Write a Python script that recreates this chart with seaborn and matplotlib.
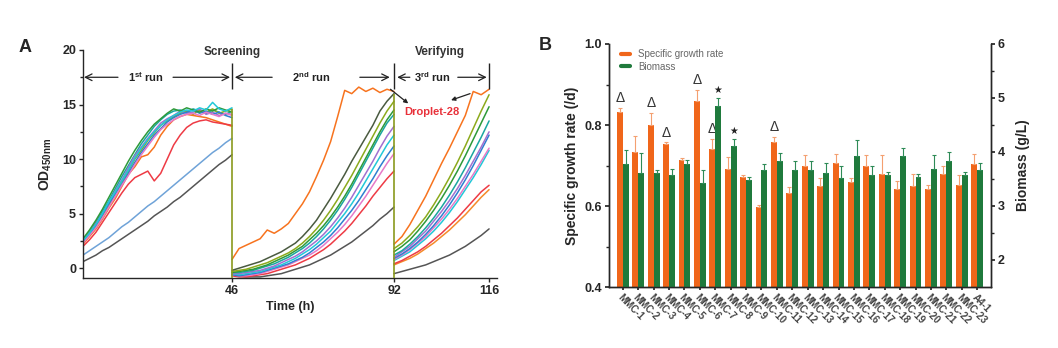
import numpy as np
import pandas as pd
import matplotlib
matplotlib.use("Agg")
import matplotlib.pyplot as plt
import seaborn as sns
from matplotlib.lines import Line2D

# ------------------------------------------------------------------ data
# Panel A: OD450 growth curves, three runs
T1 = list(range(0, 47, 2))     # run 1 time grid (h)
T2 = list(range(46, 93, 2))    # run 2 time grid (h)
T3 = list(range(92, 117, 2))   # run 3 time grid (h)

run1 = {
    "r1_teal":   [2.6,3.3,4.2,5.2,6.2,7.3,8.4,9.4,10.4,11.4,12.2,13.0,13.6,14.1,14.4,14.5,14.3,14.6,14.4,14.2,14.5,14.3,14.1,14.4],
    "r1_olive":  [2.3,3.0,3.8,4.8,5.7,6.9,7.9,8.9,10.0,10.8,11.7,12.4,13.1,13.5,13.9,14.2,14.4,14.1,14.5,14.3,14.6,14.2,14.4,14.6],
    "r1_orange": [2.2,2.9,3.6,4.5,5.5,6.4,7.5,8.6,9.3,10.2,10.4,11.1,12.2,13.0,13.6,13.9,14.1,14.0,13.9,13.8,13.6,13.4,13.2,13.0],
    "r1_purple": [2.5,3.2,4.1,5.0,6.0,7.1,8.1,9.2,10.3,11.1,11.9,12.6,13.3,13.7,14.0,14.4,14.2,14.3,14.6,14.1,14.3,14.0,14.2,14.1],
    "r1_blue":   [2.4,3.1,3.9,4.9,5.9,6.8,7.7,8.7,9.7,10.6,11.4,12.2,12.8,13.4,13.8,14.1,14.3,14.5,14.2,14.4,14.1,14.3,14.0,13.8],
    "r1_green":  [2.7,3.5,4.4,5.4,6.5,7.6,8.7,9.8,10.8,11.7,12.5,13.2,13.7,14.2,14.6,14.4,14.7,14.5,14.3,14.6,14.4,14.7,14.5,14.3],
    "r1_pink":   [2.3,3.0,3.7,4.6,5.6,6.6,7.6,8.5,9.5,10.4,11.2,12.0,12.7,13.2,13.6,13.9,14.1,14.2,14.0,14.3,14.1,13.9,14.2,14.0],
    "r1_cyan":   [2.5,3.2,4.0,5.0,6.1,7.0,8.0,9.0,10.1,11.0,11.8,12.5,13.1,13.6,14.0,14.3,14.5,14.4,14.7,14.5,15.2,14.6,14.4,14.7],
    "r1_red":    [2.0,2.6,3.3,4.2,5.1,6.0,6.9,7.7,8.3,8.6,8.9,8.0,8.7,10.0,11.3,12.2,12.9,13.3,13.5,13.6,13.4,13.3,13.2,13.1],
    "r1_ltblue": [1.2,1.6,2.0,2.4,2.8,3.3,3.8,4.2,4.7,5.2,5.7,6.1,6.6,7.1,7.6,8.1,8.6,9.1,9.6,10.1,10.6,11.0,11.5,11.9],
    "r1_gray":   [0.6,0.9,1.2,1.6,1.9,2.3,2.7,3.1,3.5,3.9,4.3,4.8,5.2,5.6,6.1,6.5,7.0,7.5,8.0,8.5,9.0,9.5,9.9,10.4],
}
run2 = {
    "r2_gray":   [-0.6,-0.7,-0.8,-0.8,-0.8,-0.7,-0.6,-0.5,-0.3,-0.1,0.1,0.3,0.6,0.9,1.2,1.6,2.0,2.4,2.9,3.4,3.9,4.5,5.0,5.6],
    "r2_red":    [-0.7,-0.8,-0.8,-0.7,-0.6,-0.5,-0.3,-0.1,0.1,0.3,0.6,0.9,1.3,1.7,2.2,2.8,3.4,4.1,4.9,5.7,6.6,7.4,8.2,8.9],
    "r2_pink":   [-0.6,-0.7,-0.7,-0.6,-0.5,-0.3,-0.1,0.1,0.3,0.6,0.9,1.2,1.6,2.1,2.7,3.3,4.0,4.8,5.7,6.6,7.6,8.6,9.6,10.5],
    "r2_blue":   [-0.6,-0.7,-0.6,-0.5,-0.4,-0.2,0.0,0.2,0.4,0.7,1.0,1.4,1.9,2.4,3.0,3.7,4.5,5.3,6.2,7.2,8.2,9.3,10.3,11.2],
    "r2_cyan":   [-0.5,-0.6,-0.5,-0.4,-0.3,-0.1,0.1,0.3,0.6,0.9,1.3,1.7,2.2,2.8,3.4,4.2,5.0,5.9,6.9,8.0,9.1,10.2,11.3,12.2],
    "r2_purple": [-0.5,-0.5,-0.4,-0.3,-0.2,0.0,0.2,0.5,0.8,1.1,1.5,2.0,2.5,3.1,3.8,4.6,5.5,6.5,7.6,8.7,9.8,11.0,12.1,13.0],
    "r2_teal":   [-0.4,-0.4,-0.3,-0.2,0.0,0.2,0.4,0.7,1.0,1.4,1.8,2.3,2.9,3.6,4.4,5.3,6.3,7.4,8.6,9.8,11.0,12.2,13.3,14.1],
    "r2_green":  [-0.4,-0.3,-0.2,-0.1,0.1,0.3,0.6,0.9,1.2,1.6,2.0,2.6,3.2,3.9,4.7,5.6,6.6,7.7,8.9,10.1,11.3,12.5,13.6,14.5],
    "r2_olive":  [-0.3,-0.2,-0.1,0.1,0.3,0.5,0.8,1.1,1.4,1.8,2.3,2.9,3.6,4.4,5.3,6.3,7.4,8.5,9.7,10.9,12.1,13.3,14.4,15.3],
    "r2_dkgray": [-0.2,0.0,0.2,0.4,0.6,0.9,1.2,1.5,1.9,2.3,2.9,3.6,4.4,5.4,6.4,7.5,8.6,9.8,10.9,12.0,13.1,14.4,15.3,16.0],
    "r2_orange": [0.8,1.8,2.1,2.4,2.7,3.5,3.2,3.6,4.1,5.0,5.9,7.0,8.4,9.9,11.6,13.9,16.3,16.0,16.6,16.2,16.5,16.1,16.4,16.2],
}
run3 = {
    "r3_gray":   [-0.5,-0.3,-0.1,0.1,0.3,0.6,0.9,1.2,1.6,2.0,2.5,3.0,3.6],
    "r3_orange2":[0.3,0.6,0.9,1.3,1.8,2.3,2.9,3.5,4.2,4.9,5.7,6.5,7.2],
    "r3_red":    [0.4,0.7,1.1,1.5,2.0,2.6,3.2,3.9,4.6,5.4,6.2,7.0,7.6],
    "r3_cyan":   [0.7,1.1,1.5,2.1,2.7,3.4,4.2,5.1,6.1,7.2,8.3,9.5,10.8],
    "r3_pink":   [0.8,1.2,1.7,2.3,2.9,3.7,4.5,5.4,6.4,7.5,8.6,9.8,11.0],
    "r3_blue":   [0.9,1.3,1.8,2.4,3.1,3.9,4.8,5.8,6.9,8.1,9.4,10.8,12.2],
    "r3_purple": [1.0,1.5,2.0,2.7,3.4,4.3,5.2,6.2,7.3,8.5,9.8,11.1,12.5],
    "r3_teal":   [1.2,1.6,2.2,2.9,3.7,4.6,5.6,6.7,7.9,9.2,10.6,12.0,13.5],
    "r3_green":  [1.5,2.0,2.6,3.4,4.3,5.3,6.4,7.6,8.9,10.3,11.8,13.3,14.8],
    "r3_olive":  [1.8,2.3,3.0,3.8,4.7,5.8,7.0,8.3,9.7,11.2,12.8,14.4,15.9],
    "r3_orange": [2.2,2.9,4.0,5.3,6.6,8.1,9.6,11.0,12.5,14.0,16.2,15.9,16.4],
}
run_bounds = [46, 92]          # medium exchange (curves drop to baseline)
run_bound_top = [14.6, 16.0]
run_ends = [46, 92, 116]

# Panel B: strains
strains = [f"MMC-{i}" for i in range(1, 24)] + ["A4-1"]
growth = [0.831,0.733,0.800,0.752,0.714,0.859,0.740,0.691,0.671,0.598,0.759,0.631,
          0.700,0.650,0.705,0.660,0.700,0.680,0.641,0.649,0.641,0.680,0.652,0.704]
growth_err = [0.012,0.040,0.029,0.005,0.005,0.027,0.025,0.030,0.005,0.005,0.012,0.015,
              0.025,0.020,0.023,0.010,0.025,0.045,0.020,0.030,0.012,0.020,0.025,0.025]
biomass = [3.78,3.62,3.62,3.58,3.78,3.43,4.86,4.12,3.49,3.67,3.83,3.67,
           3.67,3.62,3.52,3.93,3.58,3.58,3.93,3.54,3.69,3.83,3.58,3.67]
biomass_err = [0.25,0.36,0.05,0.10,0.08,0.23,0.14,0.12,0.05,0.10,0.15,0.17,
               0.17,0.17,0.22,0.30,0.17,0.05,0.15,0.05,0.25,0.17,0.05,0.13]
delta_idx = [0, 2, 3, 5, 6, 10]   # Δ over growth-rate bars
star_idx = [6, 7]                 # ★ over biomass bars

# ------------------------------------------------------------------ style
sns.set_theme(style="ticks")
plt.rcParams['font.family'] = ['Liberation Sans', 'DejaVu Sans']
plt.rcParams['mathtext.fontset'] = 'custom'
plt.rcParams['mathtext.rm'] = 'Liberation Sans:bold'
plt.rcParams['mathtext.it'] = 'Liberation Sans:bold'
plt.rcParams['mathtext.bf'] = 'Liberation Sans:bold'
plt.rcParams['mathtext.default'] = 'rm'
plt.rcParams['axes.linewidth'] = 1.0

colors = {
    "teal": "#1AA6A0", "olive": "#8CAA1C", "orange": "#F7731E", "purple": "#A070D0",
    "blue": "#2F7FD0", "green": "#2E9A3A", "pink": "#E67AC8", "cyan": "#22C8D8",
    "red": "#EE3B45", "ltblue": "#6FA3D8", "gray": "#555555", "dkgray": "#4A5A40",
    "orange2": "#F58B2A",
}
ORANGE = "#F0661A"
GREEN = "#1F7A3C"

fig = plt.figure(figsize=(10.58, 3.48), dpi=100)
fig.patch.set_facecolor("white")

# ------------------------------------------------------------------ panel A
axA = fig.add_axes([83/1058, 70/348, 414/1058, 228/348])
rows = []
for grid, runs in ((T1, run1), (T2, run2), (T3, run3)):
    for key, vals in runs.items():
        for t, v in zip(grid, vals):
            rows.append((t, v, key))
dfA = pd.DataFrame(rows, columns=["time", "od", "curve"])
palA = {k: colors[k.split("_")[1]] for k in dfA["curve"].unique()}
sns.lineplot(data=dfA, x="time", y="od", hue="curve", palette=palA,
             estimator=None, sort=False, legend=False, lw=1.1, ax=axA)
axA.vlines(run_bounds, -1.0, run_bound_top, color="#8A9A1E", lw=1.2, zorder=3)

_tk = np.array([-200., 0., 46., 92., 118., 400.])
_px = np.array([-648., 0., 149., 311., 414., 1530.7])
axA.set_xscale('function', functions=(lambda x: np.interp(x, _tk, _px),
                                      lambda u: np.interp(u, _px, _tk)))
axA.set_xlim(0, 118)
axA.set_ylim(-0.9, 20)
axA.set_xticks(run_ends)
axA.set_xticklabels([str(v) for v in run_ends], fontsize=9, fontweight="bold")
axA.set_yticks([0, 5, 10, 15, 20])
axA.set_yticks([2.5, 7.5, 12.5, 17.5], minor=True)
axA.set_yticklabels(["0", "5", "10", "15", "20"], fontsize=9, fontweight="bold")
axA.tick_params(axis="both", direction="out", length=3, width=1, pad=2)
axA.tick_params(axis="y", which="minor", length=2, width=1)
axA.set_xlabel("Time (h)", fontsize=9, fontweight="bold", labelpad=3)
axA.set_ylabel("OD$_{450nm}$", fontsize=10, fontweight="bold", labelpad=6)
for s in ("top", "right"):
    axA.spines[s].set_visible(False)

# run annotations
ay = 17.5
arr = dict(arrowstyle="->", lw=0.9, color="#222222", shrinkA=0, shrinkB=0)
def harrow(t0, t1):
    axA.annotate("", xy=(t1, ay), xytext=(t0, ay), arrowprops=arr, annotation_clip=False)
harrow(10.8, 0.3)
harrow(27.8, 45.4)
harrow(57.4, 46.8)
harrow(82.3, 90.8)
harrow(96.0, 92.8)
harrow(108.1, 115.4)
axA.vlines(run_ends, 16.4, 18.8, color="#222222", lw=1.0, clip_on=False)
tk = dict(fontsize=8, fontweight="bold", ha="center", va="center", color="#222222")
axA.text(19.4, ay, "1$^{st}$ run", **tk)
axA.text(68.4, ay, "2$^{nd}$ run", **tk)
axA.text(101.8, ay, "3$^{rd}$ run", **tk)
axA.text(46, 19.8, "Screening", fontsize=8.5, fontweight="bold", ha="center", va="center", color="#333333")
axA.text(103.6, 19.8, "Verifying", fontsize=8.5, fontweight="bold", ha="center", va="center", color="#333333")
axA.text(101.5, 14.3, "Droplet-28", fontsize=8, fontweight="bold", ha="center", va="center", color="#E8313A")
arr2 = dict(arrowstyle="-|>", lw=0.9, color="#222222", mutation_scale=6, shrinkA=0, shrinkB=0)
axA.annotate("", xy=(95.6, 15.1), xytext=(91.0, 16.4), arrowprops=arr2)
axA.annotate("", xy=(106.4, 15.4), xytext=(111.2, 16.0), arrowprops=arr2)
fig.text(25/1058, 1 - 48/348, "A", fontsize=13, fontweight="bold", ha="center", va="center")

# ------------------------------------------------------------------ panel B
axB = fig.add_axes([609/1058, 61/348, 382/1058, 243/348])
axB2 = axB.twinx()
metrics = ["Specific growth rate", "Biomass"]
n = len(strains)
dfG = pd.DataFrame({"strain": strains * 2,
                    "metric": [metrics[0]] * n + [metrics[1]] * n,
                    "value": growth + [np.nan] * n})
dfM = pd.DataFrame({"strain": strains * 2,
                    "metric": [metrics[0]] * n + [metrics[1]] * n,
                    "value": [np.nan] * n + biomass})
palB = {metrics[0]: ORANGE, metrics[1]: GREEN}
W = 0.76
sns.barplot(data=dfG, x="strain", y="value", hue="metric", hue_order=metrics, order=strains,
            palette=palB, width=W, gap=0, errorbar=None, legend=False, saturation=1,
            linewidth=0, ax=axB)
sns.barplot(data=dfM, x="strain", y="value", hue="metric", hue_order=metrics, order=strains,
            palette=palB, width=W, gap=0, errorbar=None, legend=False, saturation=1,
            linewidth=0, ax=axB2)
xi = np.arange(n)
off = W / 4
axB.errorbar(xi - off, growth, yerr=[np.zeros(n), growth_err], fmt="none",
             ecolor="#F4A070", elinewidth=0.8, capsize=1.5, capthick=0.8, zorder=1)
axB2.errorbar(xi + off, biomass, yerr=[np.zeros(n), biomass_err], fmt="none",
              ecolor="#2E8B57", elinewidth=0.8, capsize=1.5, capthick=0.8, zorder=1)
for i in delta_idx:
    axB.annotate("Δ", xy=(i - off, growth[i] + growth_err[i]), xytext=(0, 2),
                 textcoords="offset points", ha="center", va="bottom", fontsize=10,
                 fontweight="normal", color="#333333")
for i in star_idx:
    axB2.annotate("★", xy=(i + off, biomass[i] + biomass_err[i]), xytext=(0, 2),
                  textcoords="offset points", ha="center", va="bottom", fontsize=7,
                  color="#222222", family=["DejaVu Sans"])

for a in (axB, axB2):
    a.set_xlim(-0.9, n - 0.1)
axB.set_ylim(0.4, 1.0)
axB2.set_ylim(1.5, 6)
axB.set_yticks([0.4, 0.6, 0.8, 1.0])
axB.set_yticks([0.5, 0.7, 0.9], minor=True)
axB.set_yticklabels(["0.4", "0.6", "0.8", "1.0"], fontsize=9, fontweight="bold")
axB2.set_yticks([2, 3, 4, 5, 6])
axB2.set_yticks([2.5, 3.5, 4.5, 5.5], minor=True)
axB2.set_yticklabels(["2", "3", "4", "5", "6"], fontsize=9, fontweight="bold")
axB.set_xticks(xi)
axB.set_xticklabels(strains, rotation=-45, ha="left", rotation_mode="anchor",
                    fontsize=7, fontweight="bold", color="#444444")
axB.tick_params(axis="x", length=2, pad=2)
axB.tick_params(axis="y", which="major", length=3, pad=2)
axB.tick_params(axis="y", which="minor", length=2)
axB2.tick_params(axis="y", which="major", length=3, pad=2)
axB2.tick_params(axis="y", which="minor", length=2)
axB.set_xlabel("")
axB2.set_xlabel("")
axB.set_ylabel("Specific growth rate (/d)", fontsize=10, fontweight="bold", labelpad=4)
axB2.set_ylabel("Biomass (g/L)", fontsize=10, fontweight="bold", labelpad=8, rotation=90)
axB.spines["top"].set_visible(False)
axB2.spines["top"].set_visible(False)
handles = [Line2D([], [], color=ORANGE, lw=3), Line2D([], [], color=GREEN, lw=3)]
axB.legend(handles, metrics, loc="upper left", bbox_to_anchor=(0.02, 0.995), frameon=False,
           fontsize=7, handlelength=1.0, handletextpad=0.8, labelspacing=0.25,
           borderaxespad=0, labelcolor="#666666")
fig.text(545/1058, 1 - 45/348, "B", fontsize=13, fontweight="bold", ha="center", va="center")

fig.savefig("out.png", dpi=100, facecolor="white")
